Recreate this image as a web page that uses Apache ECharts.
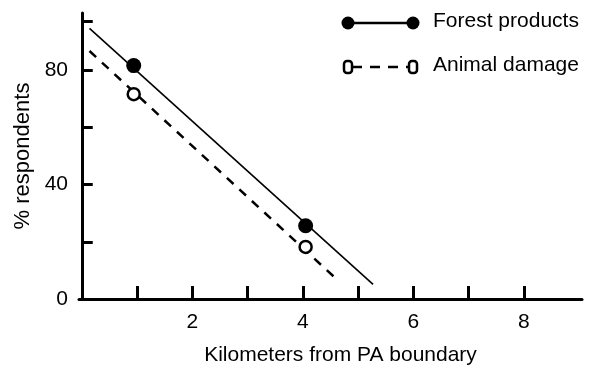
<!DOCTYPE html>
<html>
<head>
<meta charset="utf-8">
<script src="https://cdn.jsdelivr.net/npm/echarts@6/dist/echarts.min.js"></script>
<style>html,body{margin:0;padding:0;background:#fff}#c{width:591px;height:371px}</style>
</head>
<body>
<div id="c"></div>
<script>
// Data
const forestPoints = [[0.94, 81.6], [4.05, 25.6]];
const animalPoints = [[0.94, 71.6], [4.05, 18.2]];
const forestFit = [[0.14, 94.6], [5.27, 5.1]];
const animalFit = [[0.14, 86.7], [4.64, 6.4]];
const xTickValues = [1, 2, 3, 4, 5, 6, 7, 8];
const xLabelValues = [2, 4, 6, 8];
const yTickValues = [20, 40, 60, 80, 97];
const yLabelValues = [0, 40, 80];
const seriesNames = ['Forest products', 'Animal damage'];
const xTitle = 'Kilometers from PA boundary';
const yTitle = '% respondents';

const FONT = '"Liberation Sans", Arial, Helvetica, sans-serif';
const chart = echarts.init(document.getElementById('c'), null, {renderer: 'canvas'});
const axisCommon = {
  axisLine: {show: true, lineStyle: {color: '#000', width: 3}},
  splitLine: {show: false}
};
chart.setOption({
  backgroundColor: '#fff',
  animation: false,
  grid: {left: 79, right: 9, top: 13, bottom: 66, containLabel: false},
  xAxis: Object.assign({}, axisCommon, {
    type: 'value', min: -0.05, max: 9.05,
    name: xTitle, nameLocation: 'middle', nameGap: 46,
    nameTextStyle: {color: '#000', fontSize: 21, fontFamily: FONT, padding: [0, 0, 0, 20]},
    axisTick: {show: true, inside: true, length: 13, customValues: xTickValues, lineStyle: {color: '#000', width: 3}},
    axisLabel: {customValues: xLabelValues, margin: 13, color: '#000', fontSize: 21, fontFamily: FONT}
  }),
  yAxis: Object.assign({}, axisCommon, {
    type: 'value', min: 0, max: 100,
    name: yTitle, nameLocation: 'middle', nameGap: 42, nameRotate: 90,
    nameTextStyle: {color: '#000', fontSize: 22, fontFamily: FONT},
    axisTick: {show: true, inside: true, length: 11, customValues: yTickValues, lineStyle: {color: '#000', width: 3}},
    axisLabel: {customValues: yLabelValues, margin: 11, color: '#000', fontSize: 21, fontFamily: FONT}
  }),
  series: [
    {name: seriesNames[0] + ' fit', type: 'line', data: forestFit, showSymbol: false, symbol: 'none',
     lineStyle: {color: '#000', width: 1.6}, z: 2},
    {name: seriesNames[1] + ' fit', type: 'line', data: animalFit, showSymbol: false, symbol: 'none',
     lineStyle: {color: '#000', width: 2.5, type: [9, 8]}, z: 2},
    {name: seriesNames[0], type: 'scatter', data: forestPoints, symbol: 'circle', symbolSize: 15,
     itemStyle: {color: '#000', opacity: 1}, z: 3},
    {name: seriesNames[1], type: 'scatter', data: animalPoints, symbol: 'circle', symbolSize: 12,
     itemStyle: {color: '#fff', borderColor: '#000', borderWidth: 2.5, opacity: 1}, z: 3}
  ],
  graphic: [
    {type: 'line', shape: {x1: 348, y1: 23, x2: 413, y2: 23}, style: {stroke: '#000', lineWidth: 2.5}},
    {type: 'circle', shape: {cx: 348, cy: 23, r: 6.5}, style: {fill: '#000'}},
    {type: 'circle', shape: {cx: 413, cy: 23, r: 6.5}, style: {fill: '#000'}},
    {type: 'text', left: 433, top: 11, style: {text: seriesNames[0], fill: '#000', font: '21px ' + FONT}},
    {type: 'line', shape: {x1: 352, y1: 67, x2: 409, y2: 67}, style: {stroke: '#000', lineWidth: 2.5, lineDash: [10, 8]}},
    {type: 'rect', shape: {x: 344, y: 61, width: 8, height: 12, r: 3}, style: {fill: '#fff', stroke: '#000', lineWidth: 2.5}},
    {type: 'rect', shape: {x: 409, y: 61, width: 8, height: 12, r: 3}, style: {fill: '#fff', stroke: '#000', lineWidth: 2.5}},
    {type: 'text', left: 433, top: 55, style: {text: seriesNames[1], fill: '#000', font: '21px ' + FONT}}
  ]
});
</script>
</body>
</html>
